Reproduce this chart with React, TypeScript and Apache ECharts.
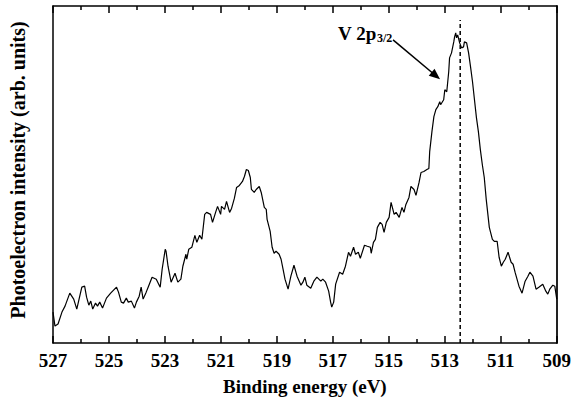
import React, { useEffect, useRef } from "react";
import * as echarts from "echarts";

const energies = [
  527.0, 526.93, 526.82, 526.68, 526.57, 526.4, 526.26, 526.15, 525.97, 525.87, 525.8, 525.72, 525.65, 525.58,
  525.48, 525.41, 525.33, 525.23, 525.09, 524.94, 524.73, 524.66, 524.56, 524.48, 524.38, 524.31, 524.2, 524.09,
  524.02, 523.92, 523.85, 523.78, 523.67, 523.6, 523.46, 523.31, 523.17, 523.1, 522.99, 522.96, 522.89, 522.78,
  522.64, 522.54, 522.43, 522.36, 522.25, 522.22, 522.15, 522.04, 521.93, 521.86, 521.76, 521.68, 521.58, 521.51,
  521.37, 521.3, 521.19, 521.12, 521.01, 520.98, 520.87, 520.8, 520.69, 520.62, 520.52, 520.44, 520.34, 520.23,
  520.16, 520.09, 520.02, 519.95, 519.91, 519.81, 519.74, 519.63, 519.56, 519.45, 519.38, 519.35, 519.24, 519.17,
  519.1, 519.03, 518.92, 518.85, 518.78, 518.71, 518.6, 518.5, 518.39, 518.28, 518.14, 518.07, 518.0, 517.93,
  517.79, 517.68, 517.57, 517.43, 517.36, 517.26, 517.15, 517.08, 517.04, 516.97, 516.9, 516.76, 516.65, 516.55,
  516.44, 516.37, 516.26, 516.19, 516.09, 516.02, 515.87, 515.77, 515.66, 515.63, 515.55, 515.48, 515.41, 515.31,
  515.24, 515.17, 515.09, 514.99, 514.92, 514.81, 514.74, 514.63, 514.53, 514.46, 514.39, 514.28, 514.21, 514.1,
  514.03, 513.92, 513.85, 513.75, 513.64, 513.57, 513.54, 513.46, 513.39, 513.32, 513.25, 513.18, 513.15, 513.04,
  513.0, 512.93, 512.86, 512.83, 512.76, 512.68, 512.65, 512.61, 512.58, 512.54, 512.47, 512.4, 512.33, 512.3,
  512.22, 512.15, 512.08, 512.01, 511.94, 511.87, 511.8, 511.73, 511.66, 511.59, 511.52, 511.41, 511.3, 511.23,
  511.13, 511.06, 510.98, 510.91, 510.84, 510.74, 510.63, 510.56, 510.49, 510.35, 510.24, 510.13, 510.03, 509.96,
  509.85, 509.74, 509.64, 509.5, 509.39, 509.32, 509.25, 509.14, 509.07, 509.0,
];

const intensities = [
  31, 17, 19, 31, 37, 50, 44, 34, 56, 57, 46, 38, 42, 34,
  40, 37, 41, 35, 45, 50, 56, 51, 41, 40, 45, 41, 42, 35,
  41, 47, 56, 44, 51, 56, 66, 64, 56, 74, 94, 92, 77, 61,
  70, 61, 64, 77, 89, 84, 94, 96, 108, 101, 108, 104, 129, 131,
  129, 121, 131, 137, 129, 137, 134, 142, 131, 135, 145, 156, 158, 162,
  167, 174, 173, 166, 154, 151, 154, 157, 151, 136, 134, 124, 112, 96,
  90, 92, 89, 84, 74, 64, 54, 67, 78, 67, 58, 61, 66, 58,
  55, 62, 66, 62, 64, 61, 52, 41, 36, 41, 59, 71, 69, 77,
  91, 87, 96, 89, 91, 85, 98, 97, 96, 90, 101, 104, 116, 121,
  119, 111, 121, 126, 141, 129, 131, 126, 136, 131, 139, 146, 157, 154,
  148, 161, 171, 172, 174, 175, 192, 212, 227, 234, 237, 242, 239, 244,
  254, 252, 272, 286, 291, 302, 307, 311, 306, 309, 301, 296, 297, 302,
  301, 291, 277, 262, 244, 226, 212, 194, 179, 166, 144, 116, 104, 102,
  102, 86, 77, 81, 84, 91, 81, 79, 71, 57, 50, 62, 67, 71,
  67, 54, 56, 59, 52, 49, 54, 58, 57, 44,
];

const xMin = 509;
const xMax = 527;
const yMin = 0;
const yMax = 338;
const peakPosition = 512.45;
const peakLineTop = 324;
const arrowStart = [514.85, 304];
const arrowEnd = [513.32, 268];
const xTitle = "Binding energy (eV)";
const yTitle = "Photoelectron intensity (arb. units)";
const peakLabelMain = "V 2p";
const peakLabelSub = "3/2";

const FONT = "'Liberation Serif', 'Times New Roman', serif";

export default function App() {
  const ref = useRef<HTMLDivElement>(null);

  useEffect(() => {
    document.body.style.margin = "0";
    if (!ref.current) return;
    const chart = echarts.init(ref.current, null, { renderer: "svg" });

    const xAxisCommon = {
      type: "value",
      min: xMin,
      max: xMax,
      interval: 2,
      inverse: true,
      splitLine: { show: false },
      axisLine: { show: true, onZero: false, lineStyle: { color: "#000", width: 1.5 } },
      axisTick: { show: true, inside: true, length: 7, lineStyle: { color: "#000", width: 1.5 } },
      minorTick: { show: true, splitNumber: 2, length: 4, lineStyle: { color: "#000", width: 1.5 } },
      minorSplitLine: { show: false },
    };

    const yAxisCommon = {
      type: "value",
      min: yMin,
      max: yMax,
      splitLine: { show: false },
      axisTick: { show: false },
      axisLabel: { show: false },
    };

    chart.setOption({
      animation: false,
      backgroundColor: "#fff",
      grid: { left: 53, right: 13, top: 6, bottom: 57, containLabel: false },
      xAxis: [
        {
          ...xAxisCommon,
          position: "bottom",
          name: xTitle,
          nameLocation: "middle",
          nameGap: 34,
          nameTextStyle: { fontFamily: FONT, fontWeight: "bold", fontSize: 19, color: "#000" },
          axisLabel: { show: true, margin: 8, fontFamily: FONT, fontWeight: "bold", fontSize: 19, color: "#000" },
        },
        {
          ...xAxisCommon,
          position: "top",
          axisLabel: { show: false },
        },
      ],
      yAxis: [
        {
          ...yAxisCommon,
          position: "left",
          axisLine: { show: true, onZero: false, lineStyle: { color: "#000", width: 1.5 } },
        },
        {
          ...yAxisCommon,
          position: "right",
          axisLine: { show: true, onZero: false, lineStyle: { color: "#222", width: 2 } },
        },
      ],
      series: [
        {
          type: "line",
          xAxisIndex: 0,
          yAxisIndex: 0,
          data: energies.map((e, i) => [e, intensities[i]]),
          showSymbol: false,
          symbol: "none",
          lineStyle: { color: "#000", width: 1.2 },
          silent: true,
        },
        {
          type: "line",
          xAxisIndex: 0,
          yAxisIndex: 0,
          data: [
            [peakPosition, yMin],
            [peakPosition, peakLineTop],
          ],
          showSymbol: false,
          symbol: "none",
          lineStyle: { color: "#000", width: 1.5, type: [4, 3] },
          silent: true,
          markLine: {
            silent: true,
            symbol: ["none", "triangle"],
            symbolSize: [9, 11],
            label: { show: false },
            lineStyle: { color: "#000", width: 1.5, type: "solid" },
            data: [[{ coord: arrowStart }, { coord: arrowEnd }]],
          },
        },
      ],
      graphic: [
        {
          type: "text",
          x: 18,
          y: 170,
          rotation: Math.PI / 2,
          style: {
            text: yTitle,
            fontFamily: FONT,
            fontWeight: "bold",
            fontSize: 20,
            fill: "#000",
            align: "center",
            verticalAlign: "middle",
          },
        },
        {
          type: "text",
          x: 338,
          y: 33,
          style: {
            text: peakLabelMain,
            fontFamily: FONT,
            fontWeight: "bold",
            fontSize: 19,
            fill: "#000",
            align: "left",
            verticalAlign: "middle",
          },
        },
        {
          type: "text",
          x: 377,
          y: 38,
          style: {
            text: peakLabelSub,
            fontFamily: FONT,
            fontWeight: "bold",
            fontSize: 12,
            fill: "#000",
            align: "left",
            verticalAlign: "middle",
          },
        },
      ],
    });

    return () => chart.dispose();
  }, []);

  return <div ref={ref} style={{ width: 574, height: 401 }} />;
}
